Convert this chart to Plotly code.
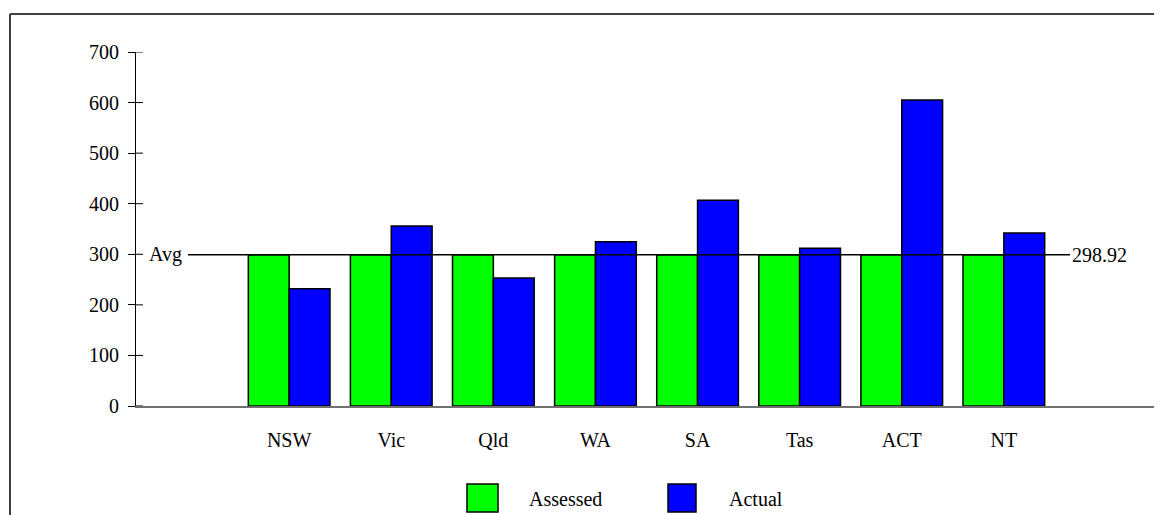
import plotly.graph_objects as go

states = ["NSW", "Vic", "Qld", "WA", "SA", "Tas", "ACT", "NT"]
assessed = [298.92, 298.92, 298.92, 298.92, 298.92, 298.92, 298.92, 298.92]
actual = [232, 356, 253, 325, 407, 312, 605, 342]
average = 298.92
y_ticks = [0, 100, 200, 300, 400, 500, 600, 700]
series_names = ["Assessed", "Actual"]
series_colors = ["#00FF00", "#0000FF"]

FONT = "Liberation Serif, Times New Roman, serif"
OFF = 8  # page body margin offset
W, H = 1162 - OFF, 515 - OFF
L, T = 136 - OFF, 52 - OFF
PW, PH = 1021, 354
R = W - L - PW
B = H - T - PH


def px_x(p):
    return (p - OFF - L) / PW


def px_y(p):
    return (T + PH - (p - OFF)) / PH


fig = go.Figure()
for name, vals, col in zip(series_names, [assessed, actual], series_colors):
    fig.add_trace(go.Bar(
        x=states, y=vals, name=name,
        marker=dict(color=col, line=dict(color="black", width=1.5)),
        showlegend=False,
    ))

shapes = []
# inner half of y ticks (ticks cross the axis)
for v in y_ticks:
    shapes.append(dict(type="line", xref="paper", yref="y",
                       x0=0, x1=7 / PW, y0=v, y1=v,
                       line=dict(color="black", width=1)))
# average line
shapes.append(dict(type="line", xref="paper", yref="y",
                   x0=px_x(188), x1=px_x(1070), y0=average, y1=average,
                   line=dict(color="black", width=1.5), layer="above"))
# outer frame (top and left edges visible)
shapes.append(dict(type="line", xref="paper", yref="paper",
                   x0=px_x(10), x1=px_x(1175), y0=px_y(14), y1=px_y(14),
                   line=dict(color="#404040", width=2)))
shapes.append(dict(type="line", xref="paper", yref="paper",
                   x0=px_x(10), x1=px_x(10), y0=px_y(14), y1=px_y(530),
                   line=dict(color="#404040", width=2)))

annotations = [
    dict(xref="paper", yref="y", x=px_x(184), y=average, text="Avg",
         showarrow=False, xanchor="right", yanchor="middle",
         font=dict(family=FONT, size=20, color="black")),
    dict(xref="paper", yref="y", x=px_x(1070), y=average, text=f"{average:.2f}",
         showarrow=False, xanchor="left", yanchor="middle",
         font=dict(family=FONT, size=20, color="black")),
]

# custom legend
legend_items = [(467, 498, 527), (668, 696, 727)]
for (x0, x1, tx), name, col in zip(legend_items, series_names, series_colors):
    shapes.append(dict(type="rect", xref="paper", yref="paper",
                       x0=px_x(x0), x1=px_x(x1), y0=px_y(512), y1=px_y(484),
                       fillcolor=col, line=dict(color="black", width=1.5)))
    annotations.append(dict(xref="paper", yref="paper", x=px_x(tx), y=px_y(499),
                            text=name, showarrow=False, xanchor="left", yanchor="middle",
                            font=dict(family=FONT, size=20, color="black")))

fig.update_layout(
    width=W, height=H,
    margin=dict(l=L, r=R, t=T, b=B, pad=0),
    paper_bgcolor="white", plot_bgcolor="white",
    barmode="group", bargap=0.2, bargroupgap=0,
    font=dict(family=FONT, size=20, color="black"),
    shapes=shapes, annotations=annotations,
    xaxis=dict(
        type="category", range=[-1.5, 8.5],
        showline=True, linecolor="#707070", linewidth=1.5,
        ticks="", showgrid=False, zeroline=False,
        ticklabelstandoff=15,
        tickfont=dict(family=FONT, size=20, color="black"),
    ),
    yaxis=dict(
        range=[0, 700], tickvals=y_ticks,
        showline=True, linecolor="black", linewidth=1,
        ticks="outside", ticklen=7, tickcolor="black", tickwidth=1,
        showgrid=False, zeroline=False,
        ticklabelstandoff=5,
        tickfont=dict(family=FONT, size=20, color="black"),
    ),
)

fig.write_html("out.html")
